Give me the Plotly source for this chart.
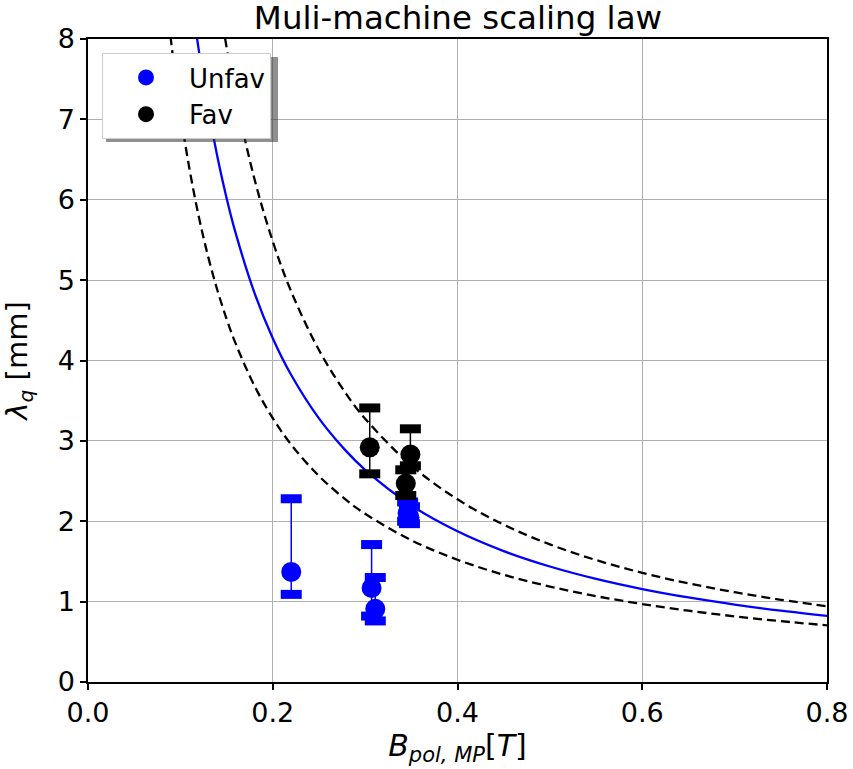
import plotly.graph_objects as go

# ---- data ----
unfav_x = [0.220, 0.307, 0.311, 0.346, 0.348]
unfav_y = [1.37, 1.17, 0.91, 2.10, 2.05]
unfav_hi = [2.28, 1.71, 1.30, 2.24, 2.18]
unfav_lo = [1.09, 0.82, 0.76, 2.00, 1.97]

fav_x = [0.305, 0.349, 0.344]
fav_y = [2.92, 2.83, 2.47]
fav_hi = [3.41, 3.15, 2.64]
fav_lo = [2.59, 2.69, 2.32]

# scaling-law curves
curve_x = [0.08, 0.09, 0.10, 0.11, 0.12, 0.13, 0.14, 0.15, 0.16, 0.18, 0.20, 0.22,
           0.25, 0.28, 0.30, 0.35, 0.40, 0.45, 0.50, 0.55, 0.60, 0.65, 0.70, 0.75, 0.80]
fit_y = [12.73, 11.06, 9.758, 8.712, 7.855, 7.141, 6.539, 6.023, 5.578, 4.848, 4.277, 3.819,
         3.280, 2.866, 2.640, 2.197, 1.875, 1.629, 1.437, 1.283, 1.157, 1.052, 0.963, 0.887, 0.822]
upper_y = [17.55, 15.11, 13.22, 11.71, 10.49, 9.474, 8.622, 7.899, 7.278, 6.267, 5.482, 4.857,
           4.130, 3.576, 3.276, 2.693, 2.273, 1.957, 1.712, 1.517, 1.358, 1.227, 1.117, 1.023, 0.943]
lower_y = [9.077, 7.965, 7.086, 6.374, 5.787, 5.295, 4.877, 4.518, 4.206, 3.690, 3.283, 2.953,
           2.563, 2.260, 2.093, 1.764, 1.521, 1.334, 1.187, 1.068, 0.970, 0.887, 0.817, 0.757, 0.705]

x_ticks = [0.0, 0.2, 0.4, 0.6, 0.8]
y_ticks = [0, 1, 2, 3, 4, 5, 6, 7, 8]

FONT = "DejaVu Sans"
BLUE = "#0000ff"
BLACK = "#000000"

W, H = 853, 769
L, R, T, B = 88, 26, 39, 87
PW, PH = W - L - R, H - T - B

fig = go.Figure()

dash = "9px,5px"
fig.add_trace(go.Scatter(x=curve_x, y=lower_y, mode="lines", line=dict(color=BLACK, width=2.3, dash=dash),
                         line_shape="spline", showlegend=False, hoverinfo="skip"))
fig.add_trace(go.Scatter(x=curve_x, y=upper_y, mode="lines", line=dict(color=BLACK, width=2.3, dash=dash),
                         line_shape="spline", showlegend=False, hoverinfo="skip"))
fig.add_trace(go.Scatter(x=curve_x, y=fit_y, mode="lines", line=dict(color=BLUE, width=2.3),
                         line_shape="spline", showlegend=False, hoverinfo="skip"))


def add_series(xs, ys, hi, lo, color, name):
    plus = [h - y for h, y in zip(hi, ys)]
    minus = [y - l for y, l in zip(ys, lo)]
    fig.add_trace(go.Scatter(x=xs + xs, y=hi + lo, mode="markers",
                             marker=dict(symbol="line-ew", size=15, line=dict(color=color, width=9)),
                             showlegend=False, hoverinfo="skip"))
    fig.add_trace(go.Scatter(x=xs, y=ys, mode="markers", name=name,
                             marker=dict(symbol="circle", size=20, color=color),
                             error_y=dict(type="data", array=plus, arrayminus=minus, symmetric=False,
                                          color=color, thickness=1.5, width=0)))


add_series(unfav_x, unfav_y, unfav_hi, unfav_lo, BLUE, "Unfav")
add_series(fav_x, fav_y, fav_hi, fav_lo, BLACK, "Fav")


def px_to_paper_x(px):
    return (px - L) / PW


def px_to_paper_y(py):
    return (H - B - py) / PH


# legend shadow
fig.add_shape(type="rect", xref="paper", yref="paper",
              x0=px_to_paper_x(106), x1=px_to_paper_x(278),
              y0=px_to_paper_y(142), y1=px_to_paper_y(57),
              fillcolor="#333333", line=dict(width=0), layer="above", opacity=0.55)

fig.update_layout(
    width=W, height=H,
    margin=dict(l=L, r=R, t=T, b=B, autoexpand=False),
    paper_bgcolor="white", plot_bgcolor="white",
    font=dict(family=FONT, size=26, color="black"),
    title=dict(text="Muli-machine scaling law", x=458 / W, xanchor="center",
               y=1 - 6 / H, yanchor="top",
               font=dict(family=FONT, size=32.5, color="black")),
    legend=dict(x=px_to_paper_x(102), y=px_to_paper_y(53), xanchor="left", yanchor="top",
                bgcolor="white", bordercolor="#cccccc", borderwidth=1,
                font=dict(family=FONT, size=26, color="black"),
                itemwidth=76, tracegroupgap=0),
    showlegend=True,
)

fig.update_xaxes(range=[0, 0.8], tickvals=x_ticks, ticktext=[f"{v:.1f}" for v in x_ticks],
                 showgrid=True, gridcolor="#b0b0b0", gridwidth=1.2, zeroline=False,
                 showline=True, linecolor="black", linewidth=1.5, mirror=True,
                 ticks="outside", ticklen=6, tickwidth=1.5, tickcolor="black",
                 tickfont=dict(family=FONT, size=27), automargin=False,
                 title=dict(text="<i>B</i><sub><i>pol, MP</i></sub>[<i>T</i>]",
                            font=dict(family=FONT, size=30), standoff=8))
fig.update_yaxes(range=[0, 8], tickvals=y_ticks, ticktext=[str(v) for v in y_ticks],
                 showgrid=True, gridcolor="#b0b0b0", gridwidth=1.2, zeroline=False,
                 showline=True, linecolor="black", linewidth=1.5, mirror=True,
                 ticks="outside", ticklen=6, tickwidth=1.5, tickcolor="black",
                 tickfont=dict(family=FONT, size=27), automargin=False,
                 title=dict(text="<i>λ</i><sub><i>q</i></sub> [mm]",
                            font=dict(family=FONT, size=29), standoff=22))

fig.write_html(
    "out.html",
    config={"displayModeBar": False},
    post_script=("document.body.style.margin='0';"
                 "document.body.style.overflow='hidden';"
                 "document.documentElement.style.overflow='hidden';"),
)
